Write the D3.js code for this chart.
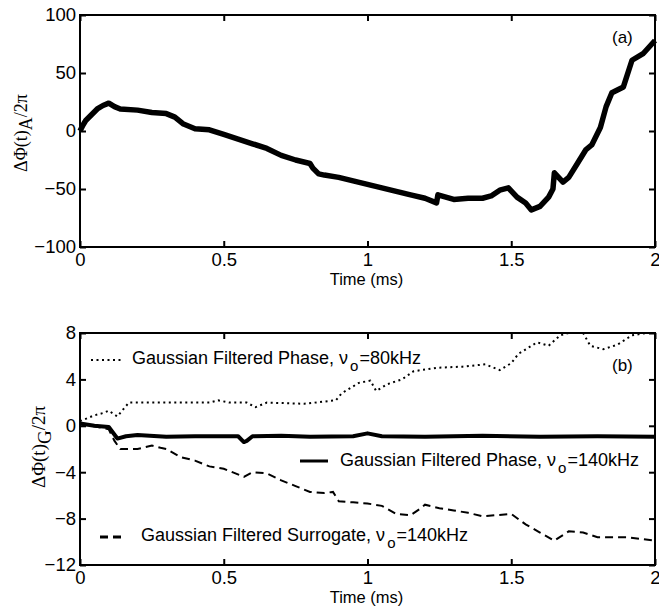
<!DOCTYPE html>
<html>
<head>
<meta charset="utf-8">
<script src="https://cdn.jsdelivr.net/npm/d3@7"></script>
<style>
  body { margin: 0; background: #fff; }
  svg { display: block; }
  .tick text { font-family: Arial, "Liberation Sans", sans-serif; font-size: 18.5px; fill: #000; }
  .axis path { display: none; }
  .axis line { stroke: #000; stroke-width: 2; }
  .lbl { font-family: Arial, "Liberation Sans", sans-serif; fill: #000; }
</style>
</head>
<body>
<div class="chart"></div>
<script>
// panel (a): accumulated phase difference
var timeA = [0, 0.01, 0.02, 0.04, 0.06, 0.08, 0.1, 0.12, 0.14, 0.2, 0.25, 0.3, 0.33, 0.36, 0.4, 0.45, 0.5, 0.55, 0.6, 0.65, 0.7, 0.75, 0.8, 0.81, 0.83, 0.85, 0.9, 0.95, 1.0, 1.05, 1.1, 1.15, 1.2, 1.24, 1.245, 1.3, 1.35, 1.4, 1.43, 1.46, 1.49, 1.52, 1.55, 1.57, 1.6, 1.63, 1.645, 1.65, 1.68, 1.7, 1.73, 1.76, 1.78, 1.81, 1.83, 1.85, 1.89, 1.92, 1.96, 2.0];
var phaseA = [0, 5, 9, 14, 19, 22, 24, 21, 19, 18, 16, 15, 12, 6, 2, 1, -3, -7, -11, -15, -21, -25, -28, -32, -37, -38, -40, -43, -46, -49, -52, -55, -58, -62, -55, -59, -58, -58, -56, -51, -49, -57, -62, -68, -65, -57, -50, -36, -44, -40, -28, -16, -12, 3, 21, 33, 38, 61, 67, 78];

// panel (b): gaussian filtered phases
var timeG80 = [0, 0.05, 0.08, 0.1, 0.13, 0.17, 0.25, 0.35, 0.45, 0.48, 0.52, 0.58, 0.61, 0.65, 0.78, 0.89, 0.91, 0.97, 1.01, 1.03, 1.07, 1.12, 1.16, 1.24, 1.33, 1.41, 1.46, 1.5, 1.525, 1.59, 1.63, 1.67, 1.7, 1.75, 1.775, 1.82, 1.87, 1.92, 1.97, 2.0];
var phaseG80 = [0.4, 0.9, 1.1, 1.3, 0.8, 2.0, 2.0, 2.0, 2.0, 2.2, 2.0, 2.0, 1.6, 2.0, 1.9, 2.2, 2.8, 3.7, 3.9, 3.0, 3.6, 4.0, 4.7, 5.0, 5.1, 5.3, 4.8, 5.4, 6.2, 7.2, 6.9, 7.8, 8.0, 8.0, 6.9, 6.6, 7.0, 7.8, 8.0, 8.0];

var timeG140 = [0, 0.05, 0.1, 0.115, 0.13, 0.16, 0.2, 0.3, 0.4, 0.55, 0.57, 0.58, 0.6, 0.7, 0.8, 0.95, 1.0, 1.05, 1.2, 1.4, 1.6, 1.8, 2.0];
var phaseG140 = [0.2, 0, -0.1, -0.6, -1.1, -0.9, -0.8, -0.95, -0.9, -0.9, -1.4, -1.3, -0.9, -0.85, -0.95, -0.9, -0.65, -0.9, -0.95, -0.85, -0.95, -0.9, -0.95];

var timeSur = [0, 0.1, 0.12, 0.14, 0.2, 0.25, 0.28, 0.3, 0.35, 0.4, 0.45, 0.5, 0.57, 0.6, 0.65, 0.7, 0.75, 0.8, 0.85, 0.88, 0.9, 0.95, 1.0, 1.05, 1.1, 1.15, 1.18, 1.2, 1.25, 1.3, 1.35, 1.4, 1.45, 1.5, 1.55, 1.6, 1.65, 1.7, 1.75, 1.8, 1.9, 2.0];
var phaseSur = [0.2, -0.3, -1.3, -2.0, -2.0, -1.7, -1.9, -2.0, -2.7, -3.0, -3.5, -3.7, -4.4, -4.0, -4.1, -4.7, -5.2, -5.7, -5.8, -5.7, -6.5, -6.6, -6.7, -6.9, -7.6, -7.7, -7.2, -6.8, -7.1, -7.3, -7.5, -7.8, -7.7, -7.6, -8.5, -9.2, -9.9, -9.1, -9.2, -9.6, -9.6, -9.9];

var xTicks = [0, 0.5, 1, 1.5, 2];
var yTicksA = [-100, -50, 0, 50, 100];
var yTicksB = [-12, -8, -4, 0, 4, 8];

var width = 659, height = 607;
var left = 80, right = 655;

var svg = d3.select('.chart').append('svg')
    .attr('width', width)
    .attr('height', height);

var x = d3.scaleLinear().domain([0, 2]).range([left, right]);

function zip(t, v) {
    return t.map(function(d, i) { return [d, v[i]]; });
}

function drawPanel(top, bottom, yDomain, yTicks) {
    var y = d3.scaleLinear().domain(yDomain).range([bottom, top]);
    var fmt = function(d) { return d3.format('')(d); };

    svg.append('g').attr('class', 'axis')
        .attr('transform', 'translate(0,' + bottom + ')')
        .call(d3.axisBottom(x).tickValues(xTicks).tickSize(-6).tickPadding(6).tickFormat(fmt));
    svg.append('g').attr('class', 'axis')
        .attr('transform', 'translate(0,' + top + ')')
        .call(d3.axisTop(x).tickValues(xTicks).tickSize(-6).tickFormat(''));
    svg.append('g').attr('class', 'axis')
        .attr('transform', 'translate(' + left + ',0)')
        .call(d3.axisLeft(y).tickValues(yTicks).tickSize(-6).tickPadding(4).tickFormat(fmt));
    svg.append('g').attr('class', 'axis')
        .attr('transform', 'translate(' + right + ',0)')
        .call(d3.axisRight(y).tickValues(yTicks).tickSize(-6).tickFormat(''));

    svg.append('rect')
        .attr('x', left).attr('y', top)
        .attr('width', right - left).attr('height', bottom - top)
        .attr('fill', 'none').attr('stroke', '#000').attr('stroke-width', 2);

    svg.append('text').attr('class', 'lbl')
        .attr('x', (left + right) / 2 - 1).attr('y', bottom + 38)
        .attr('text-anchor', 'middle').style('font-size', '16.5px')
        .text('Time (ms)');
    return y;
}

// ---- panel (a)
var yA = drawPanel(15, 247, [-100, 100], yTicksA);
var lineA = d3.line().x(function(d) { return x(d[0]); }).y(function(d) { return yA(d[1]); });

svg.append('path')
    .datum(zip(timeA, phaseA))
    .attr('d', lineA)
    .attr('fill', 'none').attr('stroke', '#000')
    .attr('stroke-width', 5.5).attr('stroke-linejoin', 'round');

svg.append('text').attr('class', 'lbl')
    .attr('x', 612).attr('y', 43).style('font-size', '17px').text('(a)');

var labA = svg.append('text')
    .attr('transform', 'translate(27,133) rotate(-90)')
    .attr('text-anchor', 'middle')
    .style('font-family', '"Liberation Serif", "Times New Roman", serif')
    .style('font-size', '18px');
labA.append('tspan').text('ΔΦ(t)');
labA.append('tspan').attr('dy', 5).text('A');
labA.append('tspan').attr('dy', -5).text('/2π');

// ---- panel (b)
var yB = drawPanel(333, 565, [-12, 8], yTicksB);
var lineB = d3.line().x(function(d) { return x(d[0]); }).y(function(d) { return yB(d[1]); });

svg.append('path')
    .datum(zip(timeG80, phaseG80))
    .attr('d', lineB)
    .attr('fill', 'none').attr('stroke', '#000')
    .attr('stroke-width', 2).attr('stroke-dasharray', '2,3.5');

svg.append('path')
    .datum(zip(timeSur, phaseSur))
    .attr('d', lineB)
    .attr('fill', 'none').attr('stroke', '#000')
    .attr('stroke-width', 2).attr('stroke-dasharray', '8,5');

svg.append('path')
    .datum(zip(timeG140, phaseG140))
    .attr('d', lineB)
    .attr('fill', 'none').attr('stroke', '#000')
    .attr('stroke-width', 4).attr('stroke-linejoin', 'round');

svg.append('text').attr('class', 'lbl')
    .attr('x', 612).attr('y', 371).style('font-size', '17px').text('(b)');

var labB = svg.append('text')
    .attr('transform', 'translate(45,447) rotate(-90)')
    .attr('text-anchor', 'middle')
    .style('font-family', '"Liberation Serif", "Times New Roman", serif')
    .style('font-size', '19px');
labB.append('tspan').text('ΔΦ(t)');
labB.append('tspan').attr('dy', 6).text('G');
labB.append('tspan').attr('dy', -6).text('/2π');

// legend
var legend = [
    {x1: 91, x2: 123, y: 360, dash: '2,3.5', w: 2, tx: 132, ty: 364, text: 'Gaussian Filtered Phase, ν', tail: '=80kHz'},
    {x1: 300, x2: 328, y: 461, dash: null, w: 3, tx: 340, ty: 466, text: 'Gaussian Filtered Phase, ν', tail: '=140kHz'},
    {x1: 100, x2: 124, y: 537, dash: '8,5', w: 3, tx: 141, ty: 541, text: 'Gaussian Filtered Surrogate, ν', tail: '=140kHz'}
];

legend.forEach(function(l) {
    svg.append('line')
        .attr('x1', l.x1).attr('x2', l.x2).attr('y1', l.y).attr('y2', l.y)
        .attr('stroke', '#000').attr('stroke-width', l.w)
        .attr('stroke-dasharray', l.dash);
    var t = svg.append('text').attr('class', 'lbl')
        .attr('x', l.tx).attr('y', l.ty).style('font-size', '18px');
    t.append('tspan').text(l.text);
    t.append('tspan').attr('dx', 2).attr('dy', 7).style('font-size', '15px').text('o');
    t.append('tspan').attr('dx', 1).attr('dy', -7).text(l.tail);
});
</script>
</body>
</html>
